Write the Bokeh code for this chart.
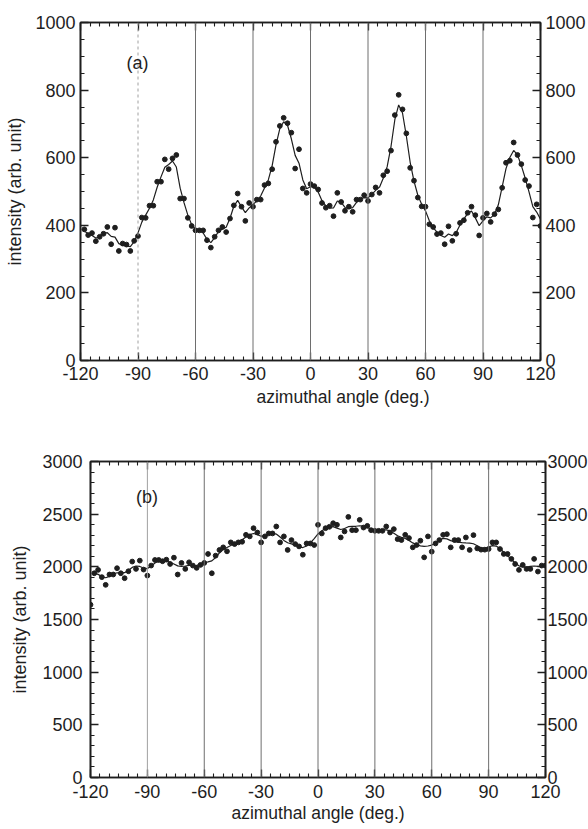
import numpy as np
from bokeh.plotting import figure
from bokeh.models import LinearAxis, FixedTicker, Range1d, Span, Label, Title
from bokeh.layouts import column, row
from bokeh.embed import file_html
from bokeh.resources import INLINE

# ---------------- data ----------------
# panel (a): azimuthal angle (deg.) and intensity (arb. unit)
ANGLE_A = list(range(-118, 121, 2))
INTENSITY_A = [
    388, 371, 377, 353, 366, 375, 395, 344, 393, 324,   # -118 .. -100
    346, 343, 324, 354, 368, 423, 422, 458, 458, 529,   # -98 .. -80
    529, 595, 566, 598, 608, 479, 479, 422, 398, 385,   # -78 .. -60
    385, 385, 356, 334, 366, 385, 395, 380, 420, 459,   # -58 .. -40
    494, 455, 413, 466, 455, 476, 476, 519, 524, 566,   # -38 .. -20
    647, 694, 718, 702, 674, 568, 625, 509, 496, 522,   # -18 .. 0
    516, 506, 466, 452, 458, 427, 496, 469, 443, 455,   # 2 .. 20
    440, 476, 476, 489, 472, 491, 512, 496, 548, 560,   # 22 .. 40
    621, 726, 786, 743, 672, 570, 532, 482, 456, 455,   # 42 .. 60
    403, 395, 374, 377, 344, 397, 354, 375, 407, 415,   # 62 .. 80
    437, 455, 430, 370, 422, 435, 410, 433, 447, 511,   # 82 .. 100
    585, 591, 645, 608, 581, 534, 516, 423, 462, 398,   # 102 .. 120
]

# panel (b)
ANGLE_B = list(range(-118, 121, 2))
INTENSITY_B = [
    1939, 1971, 1902, 1829, 1927, 1927, 1987, 1939, 1892, 1958,   # -118 .. -100
    2050, 1980, 2059, 1974, 1917, 2012, 2065, 2065, 2053, 2068,   # -98 .. -80
    2027, 2087, 1927, 2037, 1980, 2043, 2012, 1990, 2018, 2037,   # -78 .. -60
    2122, 1939, 2106, 2160, 2185, 2147, 2232, 2216, 2232, 2238,   # -58 .. -40
    2304, 2289, 2367, 2326, 2232, 2289, 2317, 2317, 2383, 2232,   # -38 .. -20
    2289, 2160, 2254, 2216, 2194, 2115, 2222, 2222, 2207, 2399,   # -18 .. 0
    2317, 2367, 2380, 2414, 2399, 2279, 2336, 2474, 2348, 2348,   # 2 .. 20
    2446, 2373, 2389, 2348, 2342, 2342, 2342, 2383, 2326, 2358,   # 22 .. 40
    2263, 2254, 2304, 2273, 2185, 2207, 2248, 2090, 2289, 2144,   # 42 .. 60
    2222, 2254, 2304, 2310, 2185, 2254, 2254, 2185, 2279, 2160,   # 62 .. 80
    2301, 2175, 2163, 2163, 2169, 2232, 2232, 2169, 2122, 2122,   # 82 .. 100
    2075, 2027, 1971, 2018, 1980, 1980, 2075, 1955, 2012, 2012,   # 102 .. 120
]
EDGE_ANGLE_B = [-120]
EDGE_INTENSITY_B = [1640]

X_TICKS = [-120, -90, -60, -30, 0, 30, 60, 90, 120]
X_MINOR = list(range(-120, 121, 5))
GRID_ANGLES = [-90, -60, -30, 0, 30, 60, 90]
A_Y_TICKS = [0, 200, 400, 600, 800, 1000]
A_Y_MINOR = list(range(0, 1001, 50))
B_Y_TICKS = [0, 500, 1000, 1500, 2000, 2500, 3000]
B_Y_MINOR = list(range(0, 3001, 100))

X_LABEL = "azimuthal angle (deg.)"
Y_LABEL = "intensity (arb. unit)"

FONT = "Liberation Sans"
INK = "#1e1e1e"


def smooth(x, y, sigma):
    """Gaussian-weighted smoothing fit through the measured points."""
    x = np.asarray(x, float)
    y = np.asarray(y, float)
    w = np.exp(-0.5 * ((x[:, None] - x[None, :]) / sigma) ** 2)
    return (w @ y) / w.sum(axis=1)


def style_axis(ax, ticks, minor, show_labels=True, standoff=5):
    ax.ticker = FixedTicker(ticks=ticks, minor_ticks=minor)
    ax.major_label_overrides = {float(t): str(t) for t in ticks}
    ax.major_tick_in = 8
    ax.major_tick_out = 0
    ax.minor_tick_in = 4
    ax.minor_tick_out = 0
    ax.axis_line_width = 1.6
    ax.axis_line_color = INK
    ax.major_tick_line_color = INK
    ax.minor_tick_line_color = INK
    ax.major_tick_line_width = 1.3
    ax.minor_tick_line_width = 1.1
    ax.major_label_text_font = FONT
    ax.major_label_standoff = standoff
    ax.major_label_text_font_size = "18px"
    if show_labels:
        ax.major_label_text_color = INK
    else:
        ax.major_label_text_color = None
        ax.major_label_text_font_size = "1px"
    ax.axis_label_text_font = FONT
    ax.axis_label_text_font_style = "normal"
    ax.axis_label_text_font_size = "18px"
    ax.axis_label_text_color = INK


def make_panel(xs, ys, ymax, yticks, yminor, tag, tag_y, sigma,
               fw, fh, bl, br, bt, bb, xstand, xl_stand, ystand, yl_stand,
               rstand, grid_dash, xlabel_offset=None):
    p = figure(x_range=Range1d(-120, 120), y_range=Range1d(0, ymax),
               frame_width=fw, frame_height=fh,
               min_border_left=bl, min_border_right=br,
               min_border_top=bt, min_border_bottom=bb,
               output_backend="svg", toolbar_location=None,
               background_fill_color="white", border_fill_color="white")
    p.outline_line_color = INK
    p.outline_line_width = 1.6
    p.xgrid.visible = False
    p.ygrid.visible = False

    style_axis(p.xaxis[0], X_TICKS, X_MINOR, True, xstand)
    if xlabel_offset is None:
        p.xaxis[0].axis_label = X_LABEL
        p.xaxis[0].axis_label_standoff = xl_stand
        p.xaxis[0].axis_label_text_font_size = "17.5px"
    else:
        # axis title set off-centre, as in the original figure
        p.add_layout(Title(text=X_LABEL, text_font=FONT,
                           text_font_size="17.5px", text_font_style="normal",
                           text_color=INK, align="left",
                           offset=xlabel_offset, standoff=xl_stand), "below")
    style_axis(p.yaxis[0], yticks, yminor, True, ystand)
    p.yaxis[0].axis_label = Y_LABEL
    p.yaxis[0].axis_label_standoff = yl_stand

    top = LinearAxis()
    style_axis(top, X_TICKS, X_MINOR, False, 0)
    p.add_layout(top, "above")
    right = LinearAxis()
    style_axis(right, yticks, yminor, True, rstand)
    p.add_layout(right, "right")

    for g in GRID_ANGLES:
        faint = (g == -90)
        p.add_layout(Span(location=g, dimension="height",
                          line_color="#a0a0a0" if faint else "#6e6e6e",
                          line_width=1.0,
                          line_dash=grid_dash if faint else "solid"))

    p.line(xs, smooth(xs, ys, sigma), line_color=INK, line_width=1.2)
    p.scatter(xs, ys, size=4.8, color=INK)

    p.add_layout(Label(x=-96, y=tag_y, text=tag, text_font=FONT,
                       text_font_size="18px", text_color=INK,
                       text_baseline="middle", text_align="left"))
    return p


pa = make_panel(ANGLE_A, INTENSITY_A, 1000, A_Y_TICKS, A_Y_MINOR, "(a)", 880, 1.6,
                fw=460, fh=338, bl=80, br=48, bt=22, bb=54,
                xstand=6, xl_stand=5, ystand=5, yl_stand=7, rstand=5,
                grid_dash="3 3", xlabel_offset=176)
pb = make_panel(ANGLE_B, INTENSITY_B, 3000, B_Y_TICKS, B_Y_MINOR, "(b)", 2663, 2.6,
                fw=455, fh=316, bl=90, br=43, bt=47, bb=51,
                xstand=7, xl_stand=2, ystand=8, yl_stand=9, rstand=2,
                grid_dash="solid")
pb.scatter(EDGE_ANGLE_B, EDGE_INTENSITY_B, size=4.8, color=INK)

# each panel in its own row so that Bokeh does not align the two frames
layout = column(row(pa), row(pb), spacing=0)
open("out.html", "w").write(file_html(layout, INLINE))
